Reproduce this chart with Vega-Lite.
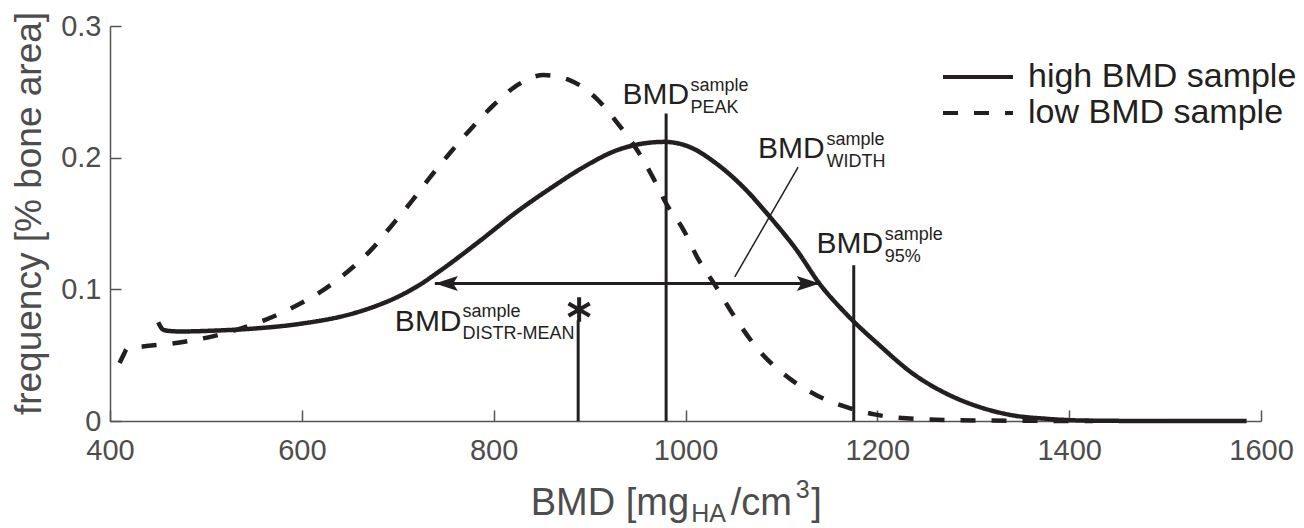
{
  "$schema": "https://vega.github.io/schema/vega-lite/v6.json",
  "width": 1151,
  "height": 395,
  "autosize": {"type": "none"},
  "padding": {"left": 110, "top": 26, "right": 43, "bottom": 107},
  "background": "white",
  "config": {
    "view": {"stroke": null},
    "font": "Liberation Sans",
    "axis": {
      "grid": false,
      "domainColor": "#555555",
      "tickColor": "#555555",
      "domainWidth": 1.5,
      "tickWidth": 1.5,
      "tickSize": -11,
      "labelColor": "#4d4d4d",
      "labelFont": "Liberation Sans",
      "labelFontSize": 29,
      "labelFlush": false,
      "labelOverlap": false,
      "titleColor": "#4d4d4d",
      "titleFont": "Liberation Sans",
      "titleFontWeight": "normal"
    }
  },
  "datasets": {
    "curves": [
      {"bmd": 450.3, "freq": 0.0750, "sample": "high BMD sample"},
      {"bmd": 455.5, "freq": 0.0693, "sample": "high BMD sample"},
      {"bmd": 462, "freq": 0.0684, "sample": "high BMD sample"},
      {"bmd": 473, "freq": 0.0680, "sample": "high BMD sample"},
      {"bmd": 511, "freq": 0.0687, "sample": "high BMD sample"},
      {"bmd": 546, "freq": 0.0700, "sample": "high BMD sample"},
      {"bmd": 598, "freq": 0.0738, "sample": "high BMD sample"},
      {"bmd": 650, "freq": 0.0810, "sample": "high BMD sample"},
      {"bmd": 676, "freq": 0.0870, "sample": "high BMD sample"},
      {"bmd": 702, "freq": 0.0950, "sample": "high BMD sample"},
      {"bmd": 723, "freq": 0.1035, "sample": "high BMD sample"},
      {"bmd": 744, "freq": 0.1140, "sample": "high BMD sample"},
      {"bmd": 786, "freq": 0.1370, "sample": "high BMD sample"},
      {"bmd": 824, "freq": 0.1588, "sample": "high BMD sample"},
      {"bmd": 859, "freq": 0.1766, "sample": "high BMD sample"},
      {"bmd": 893, "freq": 0.1925, "sample": "high BMD sample"},
      {"bmd": 928, "freq": 0.2055, "sample": "high BMD sample"},
      {"bmd": 952, "freq": 0.2103, "sample": "high BMD sample"},
      {"bmd": 978, "freq": 0.2120, "sample": "high BMD sample"},
      {"bmd": 1004, "freq": 0.2082, "sample": "high BMD sample"},
      {"bmd": 1032, "freq": 0.1956, "sample": "high BMD sample"},
      {"bmd": 1060, "freq": 0.1778, "sample": "high BMD sample"},
      {"bmd": 1088, "freq": 0.1550, "sample": "high BMD sample"},
      {"bmd": 1116, "freq": 0.1297, "sample": "high BMD sample"},
      {"bmd": 1140, "freq": 0.1040, "sample": "high BMD sample"},
      {"bmd": 1168, "freq": 0.0810, "sample": "high BMD sample"},
      {"bmd": 1203, "freq": 0.0570, "sample": "high BMD sample"},
      {"bmd": 1237, "freq": 0.0360, "sample": "high BMD sample"},
      {"bmd": 1272, "freq": 0.0208, "sample": "high BMD sample"},
      {"bmd": 1307, "freq": 0.0105, "sample": "high BMD sample"},
      {"bmd": 1342, "freq": 0.0042, "sample": "high BMD sample"},
      {"bmd": 1376, "freq": 0.0017, "sample": "high BMD sample"},
      {"bmd": 1411, "freq": 0.0004, "sample": "high BMD sample"},
      {"bmd": 1450, "freq": 0.0001, "sample": "high BMD sample"},
      {"bmd": 1500, "freq": 0, "sample": "high BMD sample"},
      {"bmd": 1585, "freq": 0, "sample": "high BMD sample"},
      {"bmd": 410, "freq": 0.044, "sample": "low BMD sample"},
      {"bmd": 414, "freq": 0.050, "sample": "low BMD sample"},
      {"bmd": 418, "freq": 0.055, "sample": "low BMD sample"},
      {"bmd": 434, "freq": 0.0565, "sample": "low BMD sample"},
      {"bmd": 476, "freq": 0.060, "sample": "low BMD sample"},
      {"bmd": 508, "freq": 0.0645, "sample": "low BMD sample"},
      {"bmd": 535, "freq": 0.070, "sample": "low BMD sample"},
      {"bmd": 560, "freq": 0.0763, "sample": "low BMD sample"},
      {"bmd": 591, "freq": 0.0864, "sample": "low BMD sample"},
      {"bmd": 619, "freq": 0.0978, "sample": "low BMD sample"},
      {"bmd": 647, "freq": 0.113, "sample": "low BMD sample"},
      {"bmd": 671, "freq": 0.129, "sample": "low BMD sample"},
      {"bmd": 694, "freq": 0.1487, "sample": "low BMD sample"},
      {"bmd": 714, "freq": 0.1664, "sample": "low BMD sample"},
      {"bmd": 734, "freq": 0.1854, "sample": "low BMD sample"},
      {"bmd": 754, "freq": 0.2032, "sample": "low BMD sample"},
      {"bmd": 775, "freq": 0.2209, "sample": "low BMD sample"},
      {"bmd": 800, "freq": 0.240, "sample": "low BMD sample"},
      {"bmd": 822, "freq": 0.2538, "sample": "low BMD sample"},
      {"bmd": 852, "freq": 0.2627, "sample": "low BMD sample"},
      {"bmd": 879, "freq": 0.2589, "sample": "low BMD sample"},
      {"bmd": 907, "freq": 0.245, "sample": "low BMD sample"},
      {"bmd": 928, "freq": 0.2272, "sample": "low BMD sample"},
      {"bmd": 954, "freq": 0.2006, "sample": "low BMD sample"},
      {"bmd": 966, "freq": 0.185, "sample": "low BMD sample"},
      {"bmd": 980, "freq": 0.165, "sample": "low BMD sample"},
      {"bmd": 998, "freq": 0.145, "sample": "low BMD sample"},
      {"bmd": 1013, "freq": 0.1233, "sample": "low BMD sample"},
      {"bmd": 1031, "freq": 0.103, "sample": "low BMD sample"},
      {"bmd": 1048, "freq": 0.0827, "sample": "low BMD sample"},
      {"bmd": 1075, "freq": 0.055, "sample": "low BMD sample"},
      {"bmd": 1109, "freq": 0.032, "sample": "low BMD sample"},
      {"bmd": 1137, "freq": 0.0194, "sample": "low BMD sample"},
      {"bmd": 1168, "freq": 0.0105, "sample": "low BMD sample"},
      {"bmd": 1197, "freq": 0.005, "sample": "low BMD sample"},
      {"bmd": 1230, "freq": 0.002, "sample": "low BMD sample"},
      {"bmd": 1307, "freq": 0.0004, "sample": "low BMD sample"},
      {"bmd": 1425, "freq": 0, "sample": "low BMD sample"}
    ],
    "markers": [
      {"name": "DISTR-MEAN", "bmd": 888.1, "freq": 0.0765},
      {"name": "PEAK", "bmd": 979.8, "freq": 0.2335},
      {"name": "95%", "bmd": 1175.4, "freq": 0.1183}
    ],
    "width": [
      {"bmd": 738.7, "bmd2": 1140, "freq": 0.1044}
    ],
    "heads": [
      {"bmd": 738.7, "freq": 0.1044, "dir": "left"},
      {"bmd": 1140, "freq": 0.1044, "dir": "right"}
    ],
    "pointer": [
      {"bmd": 1051.4, "freq": 0.1094, "bmd2": 1117.4, "freq2": 0.1929}
    ],
    "mean": [
      {"bmd": 889.1, "freq": 0.0846}
    ],
    "labels": [
      {"bmd": 934.3, "freq": 0.2405, "text": "BMD", "kind": "main"},
      {"bmd": 1005.2, "freq": 0.2504, "text": "sample", "kind": "small"},
      {"bmd": 1005.2, "freq": 0.2342, "text": "PEAK", "kind": "small"},
      {"bmd": 1075.7, "freq": 0.2000, "text": "BMD", "kind": "main"},
      {"bmd": 1147, "freq": 0.2094, "text": "sample", "kind": "small"},
      {"bmd": 1147, "freq": 0.1929, "text": "WIDTH", "kind": "small"},
      {"bmd": 1136.5, "freq": 0.1276, "text": "BMD", "kind": "main"},
      {"bmd": 1207.7, "freq": 0.1372, "text": "sample", "kind": "small"},
      {"bmd": 1207.7, "freq": 0.1208, "text": "95%", "kind": "small"},
      {"bmd": 697, "freq": 0.0684, "text": "BMD", "kind": "main"},
      {"bmd": 767.6, "freq": 0.0790, "text": "sample", "kind": "small"},
      {"bmd": 767.6, "freq": 0.0626, "text": "DISTR-MEAN", "kind": "small"}
    ],
    "xtitle": [
      {"bmd": 838.6, "freq": -0.0714, "text": "BMD [mg", "kind": "main"},
      {"bmd": 1006, "freq": -0.0767, "text": "HA", "kind": "small"},
      {"bmd": 1047.2, "freq": -0.0714, "text": "/cm", "kind": "main"},
      {"bmd": 1115, "freq": -0.0585, "text": "3", "kind": "small"},
      {"bmd": 1131, "freq": -0.0714, "text": "]", "kind": "main"}
    ]
  },
  "layer": [
    {
      "data": {"name": "curves"},
      "mark": {"type": "line", "strokeWidth": 4.5, "color": "#231f20", "interpolate": "monotone", "strokeCap": "butt"},
      "encoding": {
        "x": {
          "field": "bmd", "type": "quantitative",
          "scale": {"domain": [400, 1600]},
          "axis": {"title": null, "values": [400, 600, 800, 1000, 1200, 1400, 1600], "format": "d", "labelPadding": 26, "labelFontSize": 29, "labelFlush": false}
        },
        "y": {
          "field": "freq", "type": "quantitative",
          "scale": {"domain": [0, 0.3]},
          "axis": {"title": "frequency [% bone area]", "values": [0, 0.1, 0.2, 0.3], "format": "~g", "labelPadding": 20, "labelFontSize": 29, "labelFlush": false, "titleFontSize": 37, "titleX": -62, "titleY": 187, "titleBaseline": "bottom", "titleAlign": "center"}
        },
        "strokeDash": {
          "field": "sample", "type": "nominal",
          "scale": {"domain": ["high BMD sample", "low BMD sample"], "range": [[1, 0], [15, 16]]},
          "legend": {
            "title": null, "orient": "none", "legendX": 851, "legendY": 34,
            "symbolType": "M-5,0H5", "symbolSize": 196, "symbolStrokeWidth": 4,
            "symbolStrokeColor": "#231f20", "symbolFillColor": "transparent",
            "labelFontSize": 34, "labelColor": "#231f20", "labelFont": "Liberation Sans",
            "labelOffset": 33, "labelLimit": 500, "rowPadding": 2, "padding": 0
          }
        }
      }
    },
    {
      "data": {"name": "markers"},
      "mark": {"type": "rule", "strokeWidth": 3, "color": "#231f20"},
      "encoding": {
        "x": {"field": "bmd", "type": "quantitative"},
        "y": {"field": "freq", "type": "quantitative"},
        "y2": {"datum": 0}
      }
    },
    {
      "data": {"name": "width"},
      "mark": {"type": "rule", "strokeWidth": 3, "color": "#231f20"},
      "encoding": {
        "x": {"field": "bmd", "type": "quantitative"},
        "x2": {"field": "bmd2"},
        "y": {"field": "freq", "type": "quantitative"}
      }
    },
    {
      "data": {"name": "heads"},
      "mark": {"type": "point", "filled": true, "size": 529, "color": "#231f20", "opacity": 1},
      "encoding": {
        "x": {"field": "bmd", "type": "quantitative"},
        "y": {"field": "freq", "type": "quantitative"},
        "shape": {
          "field": "dir", "type": "nominal",
          "scale": {"domain": ["left", "right"], "range": ["M0,0L2,-0.65L1.6,0L2,0.65Z", "M0,0L-2,-0.65L-1.6,0L-2,0.65Z"]},
          "legend": null
        }
      }
    },
    {
      "data": {"name": "pointer"},
      "mark": {"type": "rule", "strokeWidth": 1.5, "color": "#231f20"},
      "encoding": {
        "x": {"field": "bmd", "type": "quantitative"},
        "y": {"field": "freq", "type": "quantitative"},
        "x2": {"field": "bmd2"},
        "y2": {"field": "freq2"}
      }
    },
    {
      "data": {"name": "mean"},
      "mark": {"type": "point", "shape": "M0,-1V1M-0.866,-0.5L0.866,0.5M-0.866,0.5L0.866,-0.5", "size": 600, "filled": false, "strokeWidth": 4, "color": "#231f20", "opacity": 1},
      "encoding": {
        "x": {"field": "bmd", "type": "quantitative"},
        "y": {"field": "freq", "type": "quantitative"}
      }
    },
    {
      "data": {"name": "labels"},
      "transform": [{"filter": "datum.kind === 'main'"}],
      "mark": {"type": "text", "align": "left", "baseline": "alphabetic", "fontSize": 30, "color": "#231f20", "font": "Liberation Sans"},
      "encoding": {
        "x": {"field": "bmd", "type": "quantitative"},
        "y": {"field": "freq", "type": "quantitative"},
        "text": {"field": "text"}
      }
    },
    {
      "data": {"name": "labels"},
      "transform": [{"filter": "datum.kind === 'small'"}],
      "mark": {"type": "text", "align": "left", "baseline": "alphabetic", "fontSize": 18, "color": "#231f20", "font": "Liberation Sans"},
      "encoding": {
        "x": {"field": "bmd", "type": "quantitative"},
        "y": {"field": "freq", "type": "quantitative"},
        "text": {"field": "text"}
      }
    },
    {
      "data": {"name": "xtitle"},
      "transform": [{"filter": "datum.kind === 'main'"}],
      "mark": {"type": "text", "align": "left", "baseline": "alphabetic", "fontSize": 38, "color": "#4d4d4d", "font": "Liberation Sans"},
      "encoding": {
        "x": {"field": "bmd", "type": "quantitative"},
        "y": {"field": "freq", "type": "quantitative"},
        "text": {"field": "text"}
      }
    },
    {
      "data": {"name": "xtitle"},
      "transform": [{"filter": "datum.kind === 'small'"}],
      "mark": {"type": "text", "align": "left", "baseline": "alphabetic", "fontSize": 25, "color": "#4d4d4d", "font": "Liberation Sans"},
      "encoding": {
        "x": {"field": "bmd", "type": "quantitative"},
        "y": {"field": "freq", "type": "quantitative"},
        "text": {"field": "text"}
      }
    }
  ]
}
